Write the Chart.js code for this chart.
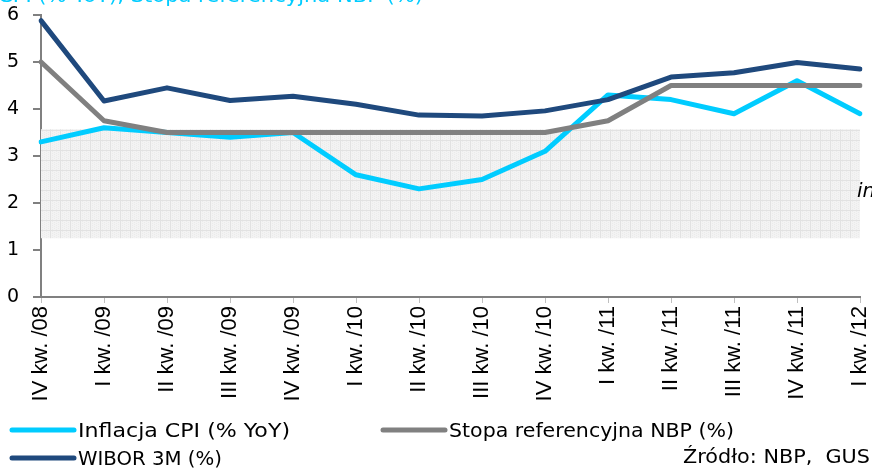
<!DOCTYPE html>
<html>
<head>
<meta charset="utf-8">
<script src="https://cdn.jsdelivr.net/npm/chart.js@4.4.0/dist/chart.umd.min.js"></script>
<style>
  html, body { margin: 0; padding: 0; background: #fff; }
  #wrap { position: relative; width: 872px; height: 468px; }
</style>
</head>
<body>
<div id="wrap"><canvas id="chart" width="872" height="468"></canvas></div>
<script>
// dane
var quarters = ['IV kw. /08', 'I kw. /09', 'II kw. /09', 'III kw. /09', 'IV kw. /09',
  'I kw. /10', 'II kw. /10', 'III kw. /10', 'IV kw. /10', 'I kw. /11',
  'II kw. /11', 'III kw. /11', 'IV kw. /11', 'I kw. /12'];
var cpi = [3.3, 3.6, 3.5, 3.4, 3.5, 2.6, 2.3, 2.5, 3.1, 4.3, 4.2, 3.9, 4.6, 3.9];
var nbpRate = [5.0, 3.75, 3.5, 3.5, 3.5, 3.5, 3.5, 3.5, 3.5, 3.75, 4.5, 4.5, 4.5, 4.5];
var wibor3m = [5.88, 4.17, 4.45, 4.18, 4.27, 4.1, 3.87, 3.85, 3.96, 4.2, 4.68, 4.77, 4.99, 4.85];
var targetBand = [1.25, 3.57];   // pasmo celu inflacyjnego
var yTicks = [0, 1, 2, 3, 4, 5, 6];

var CYAN = '#00ccff';
var GRAY = '#808080';
var NAVY = '#1f497d';

// wzorek kratki dla pasma
function makePattern(ctx) {
  var c = document.createElement('canvas');
  c.width = 10; c.height = 10;
  var p = c.getContext('2d');
  p.fillStyle = '#f3f3f3';
  p.fillRect(0, 0, 10, 10);
  p.fillStyle = '#ebebeb';
  for (var i = 0; i < 10; i += 2) {
    for (var j = (i / 2) % 2; j < 10; j += 2) p.fillRect(i, j, 1, 1);
  }
  p.fillStyle = '#e2e2e2';
  p.fillRect(0, 0, 10, 1);
  p.fillRect(0, 0, 1, 10);
  return ctx.createPattern(c, 'repeat');
}

var bandPlugin = {
  id: 'band',
  beforeDatasetsDraw: function (chart) {
    var ctx = chart.ctx;
    var x = chart.scales.x, y = chart.scales.y;
    var x0 = x.getPixelForValue(0);
    var x1 = x.getPixelForValue(quarters.length - 1);
    var yTop = y.getPixelForValue(targetBand[1]);
    var yBot = y.getPixelForValue(targetBand[0]);
    ctx.save();
    ctx.fillStyle = makePattern(ctx);
    ctx.fillRect(x0, yTop, x1 - x0, yBot - yTop);
    ctx.restore();
  }
};

// tekst dopasowany do zadanej szerokości
function fitText(ctx, txt, x, y, w) {
  var m = ctx.measureText(txt).width;
  ctx.save();
  ctx.translate(x, y);
  ctx.scale(w / m, 1);
  ctx.fillText(txt, 0, 0);
  ctx.restore();
}

var extrasPlugin = {
  id: 'extras',
  afterDraw: function (chart) {
    var ctx = chart.ctx;
    ctx.save();
    // tytuł (ucięty u góry)
    ctx.fillStyle = CYAN;
    ctx.font = '19px "DejaVu Sans"';
    ctx.textAlign = 'left';
    ctx.textBaseline = 'alphabetic';
    var head = 'Inflacja ';
    var tail = 'CPI (% YoY), Stopa referencyjna NBP (%)';
    var k = 425 / ctx.measureText(tail).width;
    ctx.save();
    ctx.translate(-2 - ctx.measureText(head).width * k, 2);
    ctx.scale(k, 1);
    ctx.fillText(head + tail, 0, 0);
    ctx.restore();

    // ucięty napis po prawej
    ctx.fillStyle = '#000';
    ctx.font = 'italic 20px "DejaVu Sans"';
    ctx.fillText('in', 857, 197);

    // legenda
    var items = [
      { label: 'Inflacja CPI (% YoY)', color: CYAN, x: 12, y: 430, w: 212 },
      { label: 'Stopa referencyjna NBP (%)', color: GRAY, x: 383, y: 430, w: 285 },
      { label: 'WIBOR 3M (%)', color: NAVY, x: 12, y: 458, w: 144 }
    ];
    ctx.font = '20px "DejaVu Sans"';
    items.forEach(function (it) {
      ctx.strokeStyle = it.color;
      ctx.lineWidth = 5;
      ctx.lineCap = 'round';
      ctx.beginPath();
      ctx.moveTo(it.x, it.y);
      ctx.lineTo(it.x + 62, it.y);
      ctx.stroke();
      ctx.fillStyle = '#000';
      fitText(ctx, it.label, it.x + 66, it.y + 7, it.w);
    });
    fitText(ctx, 'Źródło: NBP,  GUS', 683, 463, 187);
    ctx.restore();
  }
};

new Chart(document.getElementById('chart'), {
  type: 'line',
  data: {
    labels: quarters,
    datasets: [
      { label: 'Inflacja CPI (% YoY)', data: cpi, borderColor: CYAN, order: 3 },
      { label: 'Stopa referencyjna NBP (%)', data: nbpRate, borderColor: GRAY, order: 2 },
      { label: 'WIBOR 3M (%)', data: wibor3m, borderColor: NAVY, order: 1 }
    ]
  },
  options: {
    responsive: false,
    animation: false,
    events: [],
    layout: { padding: { top: 15, right: 12, left: 0, bottom: 0 } },
    elements: {
      line: { borderWidth: 5, tension: 0, borderCapStyle: 'round', borderJoinStyle: 'round' },
      point: { radius: 0 }
    },
    plugins: {
      legend: { display: false },
      tooltip: { enabled: false }
    },
    scales: {
      x: {
        offset: false,
        afterFit: function (s) { s.height = 171; s.paddingLeft = 0; s.paddingRight = 0; },
        grid: { display: true, drawOnChartArea: false, drawTicks: true, tickLength: 6, color: '#bfbfbf' },
        border: { display: true, color: GRAY, width: 2 },
        ticks: {
          autoSkip: false, minRotation: 90, maxRotation: 90, padding: 3,
          color: '#000', font: { family: '"Liberation Sans"', size: 22 }
        }
      },
      y: {
        min: 0, max: 6,
        afterFit: function (s) { s.width = 41; s.paddingTop = 0; s.paddingBottom = 0; },
        afterBuildTicks: function (s) { s.ticks = yTicks.map(function (v) { return { value: v }; }); },
        grid: { display: true, drawOnChartArea: false, drawTicks: true, tickLength: 8, color: GRAY, lineWidth: 2 },
        border: { display: true, color: GRAY, width: 2 },
        ticks: {
          padding: 14, color: '#000', font: { family: '"DejaVu Sans"', size: 19 }
        }
      }
    }
  },
  plugins: [bandPlugin, extrasPlugin]
});
</script>
</body>
</html>
